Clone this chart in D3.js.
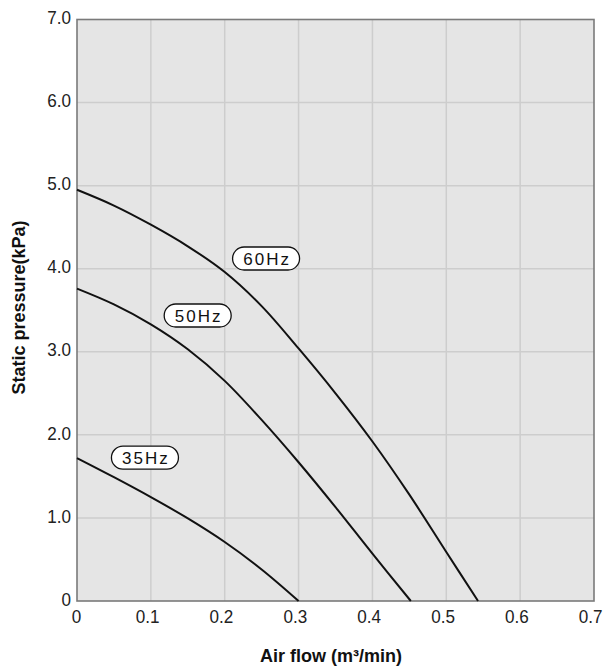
<!DOCTYPE html>
<html>
<head>
<meta charset="utf-8">
<script src="https://cdn.jsdelivr.net/npm/d3@7"></script>
<style>
  html, body { margin: 0; padding: 0; background: #fff; }
  svg { display: block; }
</style>
</head>
<body>
<svg id="chart" width="604" height="668"></svg>
<script>
// ---- data ----
const xTicks = [0, 0.1, 0.2, 0.3, 0.4, 0.5, 0.6, 0.7];
const xTickLabels = ["0", "0.1", "0.2", "0.3", "0.4", "0.5", "0.6", "0.7"];
const yTicks = [0, 1, 2, 3, 4, 5, 6, 7];
const yTickLabels = ["0", "1.0", "2.0", "3.0", "4.0", "5.0", "6.0", "7.0"];

const flow60 = [0, 0.05, 0.1, 0.15, 0.2, 0.25, 0.3, 0.35, 0.4, 0.45, 0.5, 0.543];
const pres60 = [4.95, 4.76, 4.53, 4.27, 3.96, 3.55, 3.04, 2.50, 1.92, 1.28, 0.59, 0];
const flow50 = [0, 0.05, 0.1, 0.15, 0.2, 0.25, 0.3, 0.35, 0.4, 0.452];
const pres50 = [3.76, 3.57, 3.33, 3.03, 2.65, 2.18, 1.67, 1.13, 0.57, 0];
const flow35 = [0, 0.05, 0.1, 0.149, 0.2, 0.25, 0.3];
const pres35 = [1.72, 1.49, 1.25, 1.00, 0.71, 0.38, 0];

const seriesNames = ["60Hz", "50Hz", "35Hz"];
const labelFlow = [0.256, 0.1634, 0.092];   // label centre positions in data units
const labelPres = [4.123, 3.437, 1.725];

const xTitle = "Air flow (m³/min)";
const yTitle = "Static pressure(kPa)";

// ---- layout ----
const svg = d3.select("#chart");
const m = { left: 77, top: 19.5, right: 594, bottom: 601 };
const x = d3.scaleLinear().domain([0, 0.7]).range([m.left, m.right]);
const y = d3.scaleLinear().domain([0, 7]).range([m.bottom, m.top]);

const tickFont = "'Liberation Sans', Arial, sans-serif";

// background
svg.append("rect")
  .attr("x", m.left).attr("y", m.top)
  .attr("width", m.right - m.left).attr("height", m.bottom - m.top)
  .attr("fill", "#e5e5e5");

// grid
const grid = svg.append("g");
grid.selectAll("line.v").data(xTicks.slice(1, -1)).join("line")
  .attr("x1", d => x(d)).attr("x2", d => x(d))
  .attr("y1", m.top).attr("y2", m.bottom)
  .attr("stroke", "#cdcdcd").attr("stroke-width", 1.5);
grid.selectAll("line.h").data(yTicks.slice(1, -1)).join("line")
  .attr("x1", m.left).attr("x2", m.right)
  .attr("y1", d => y(d)).attr("y2", d => y(d))
  .attr("stroke", "#cdcdcd").attr("stroke-width", 1.5);

// frame
svg.append("rect")
  .attr("x", m.left).attr("y", m.top)
  .attr("width", m.right - m.left).attr("height", m.bottom - m.top)
  .attr("fill", "none").attr("stroke", "#7a7a7a").attr("stroke-width", 1.6);

// axes (labels only), slightly condensed glyphs
const xAxis = d3.axisBottom(x).tickValues(xTicks).tickSize(0).tickPadding(9)
  .tickFormat((d, i) => xTickLabels[i]);
const gx = svg.append("g").attr("transform", `translate(0,${m.bottom})`).call(xAxis);
gx.select(".domain").remove();
gx.selectAll("text").attr("font-family", tickFont).attr("font-size", 19).attr("fill", "#222")
  .attr("dx", (d, i) => xTickLabels[i].includes(".") ? -4.2 : -1)
  .attr("transform", "scale(0.9,1)");

const yAxis = d3.axisLeft(y).tickValues(yTicks).tickSize(0).tickPadding(6)
  .tickFormat((d, i) => yTickLabels[i]);
const gy = svg.append("g").attr("transform", `translate(${m.left},0)`).call(yAxis);
gy.select(".domain").remove();
gy.selectAll("text").attr("font-family", tickFont).attr("font-size", 19).attr("fill", "#222")
  .attr("dy", "0.22em").attr("x", -6.7).attr("transform", "scale(0.9,1)");

// curves
const line = d3.line().x(d => x(d[0])).y(d => y(d[1])).curve(d3.curveCatmullRom.alpha(0.5));
const series = [
  d3.zip(flow60, pres60),
  d3.zip(flow50, pres50),
  d3.zip(flow35, pres35)
];
svg.append("g").selectAll("path").data(series).join("path")
  .attr("d", line)
  .attr("fill", "none").attr("stroke", "#111").attr("stroke-width", 2);

// labels
const lab = svg.append("g").selectAll("g").data(seriesNames).join("g")
  .attr("transform", (d, i) => `translate(${x(labelFlow[i])},${y(labelPres[i])})`);
lab.append("rect")
  .attr("x", -33.5).attr("y", -11.5).attr("width", 67).attr("height", 23)
  .attr("rx", 11.5).attr("ry", 11.5)
  .attr("fill", "#fff").attr("stroke", "#111").attr("stroke-width", 1.3);
lab.append("text")
  .attr("text-anchor", "middle").attr("dy", "0.36em").attr("x", 1)
  .attr("font-family", "'Liberation Sans', Arial, sans-serif")
  .attr("font-size", 17).attr("letter-spacing", 2).attr("fill", "#111")
  .text(d => d);

// titles
svg.append("text")
  .attr("x", 331).attr("y", 662)
  .attr("text-anchor", "middle")
  .attr("font-family", "'Liberation Sans', Arial, sans-serif")
  .attr("font-weight", "bold").attr("font-size", 18).attr("fill", "#111")
  .text(xTitle);
svg.append("text")
  .attr("transform", `translate(25,307.5) rotate(-90)`)
  .attr("text-anchor", "middle")
  .attr("font-family", "'Liberation Sans', Arial, sans-serif")
  .attr("font-weight", "bold").attr("font-size", 18).attr("fill", "#111")
  .text(yTitle);
</script>
</body>
</html>
